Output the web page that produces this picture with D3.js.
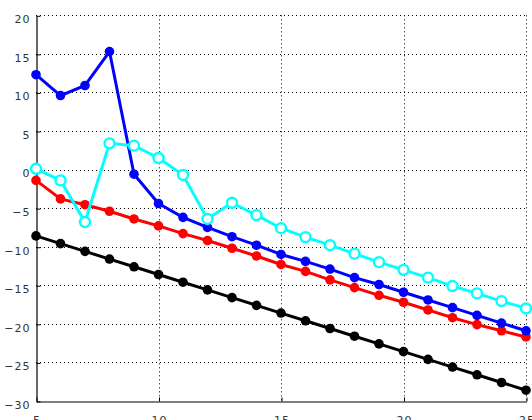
<!DOCTYPE html>
<html>
<head>
<meta charset="utf-8">
<script src="https://cdn.jsdelivr.net/npm/d3@7"></script>
<style>
    body { margin: 0; background: #fff; }
    svg { display: block; }
</style>
</head>
<body>
<div class="chart"></div>
<script>
// x positions shared by all series
var xs = [5, 6, 7, 8, 9, 10, 11, 12, 13, 14, 15, 16, 17, 18, 19, 20, 21, 22, 23, 24, 25];

var blueValues = [12.3, 9.6, 10.9, 15.3, -0.6, -4.4, -6.2, -7.5, -8.7, -9.8, -11.0, -11.9, -12.9,
    -14.0, -14.9, -15.9, -16.9, -17.9, -18.9, -19.9, -20.9];
var cyanValues = [0.1, -1.4, -6.8, 3.4, 3.1, 1.5, -0.7, -6.4, -4.3, -5.9, -7.6, -8.75, -9.8,
    -10.9, -12.0, -13.0, -14.0, -15.1, -16.05, -17.05, -18.0];
var redValues = [-1.4, -3.8, -4.55, -5.4, -6.4, -7.3, -8.3, -9.2, -10.2, -11.2, -12.3, -13.2, -14.3,
    -15.3, -16.3, -17.2, -18.2, -19.2, -20.1, -20.9, -21.7];
var blackValues = [-8.6, -9.6, -10.6, -11.6, -12.6, -13.6, -14.6, -15.6, -16.6, -17.6, -18.6, -19.6, -20.6,
    -21.6, -22.6, -23.6, -24.6, -25.6, -26.6, -27.6, -28.6];

var xTicks = [5, 10, 15, 20, 25];
var yTicks = [-30, -25, -20, -15, -10, -5, 0, 5, 10, 15, 20];

var series = [
    {values: blackValues, color: '#000000', open: false},
    {values: redValues, color: '#ff0000', open: false},
    {values: blueValues, color: '#0000ff', open: false},
    {values: cyanValues, color: '#00ffff', open: true}
];

var width = 532, height = 420;
var plotLeft = 36, plotRight = 526, plotTop = 15.3, plotBottom = 401;

var svg = d3.select('.chart').append('svg')
    .attr('width', width)
    .attr('height', height);

var x = d3.scaleLinear().domain([5, 25]).range([plotLeft, plotRight]);
var y = d3.scaleLinear().domain([-30, 20]).range([plotBottom, plotTop]);

/* dotted grid */
var grid = svg.append('g')
    .attr('stroke', '#000')
    .attr('stroke-width', 1)
    .attr('stroke-dasharray', '1,3');

grid.selectAll('line.h')
    .data(yTicks.filter(function (d) { return d > -30; }))
    .enter().append('line')
    .attr('class', 'h')
    .attr('x1', plotLeft).attr('x2', plotRight)
    .attr('y1', function (d) { return Math.round(y(d)) + 0.5; })
    .attr('y2', function (d) { return Math.round(y(d)) + 0.5; });

grid.selectAll('line.v')
    .data(xTicks.filter(function (d) { return d > 5; }))
    .enter().append('line')
    .attr('class', 'v')
    .attr('y1', plotTop).attr('y2', plotBottom)
    .attr('x1', function (d) { return Math.round(x(d)) + 0.5; })
    .attr('x2', function (d) { return Math.round(x(d)) + 0.5; });

/* axes */
var fmt = function (d) { return d < 0 ? '\u2212' + Math.abs(d) : '' + d; };

var yAxis = svg.append('g')
    .attr('transform', 'translate(' + (plotLeft + 0.5) + ',0.5)')
    .call(d3.axisLeft(y).tickValues(yTicks).tickFormat(fmt).tickSizeInner(-4).tickSizeOuter(0).tickPadding(6));

var xAxis = svg.append('g')
    .attr('transform', 'translate(0.5,' + (Math.round(plotBottom) + 0.5) + ')')
    .call(d3.axisBottom(x).tickValues(xTicks).tickFormat(fmt).tickSizeInner(-4).tickSizeOuter(0).tickPadding(15));

[yAxis, xAxis].forEach(function (ax) {
    ax.select('.domain').attr('stroke', '#000').attr('stroke-width', 1.2);
    ax.selectAll('.tick line').attr('stroke', '#000');
    ax.selectAll('.tick text')
        .attr('fill', '#333')
        .style('font-family', '"DejaVu Sans", sans-serif')
        .style('font-size', '11px')
        .style('letter-spacing', '1px');
});
yAxis.selectAll('.tick text').attr('dy', '0.62em');

/* series */
var line = d3.line()
    .x(function (d, i) { return x(xs[i]); })
    .y(function (d) { return y(d); });

for (var i = 0; i < series.length; i++) {
    var s = series[i];
    var g = svg.append('g');

    g.append('path')
        .datum(s.values)
        .attr('d', line)
        .attr('fill', 'none')
        .attr('stroke', s.color)
        .attr('stroke-width', 3)
        .attr('stroke-linejoin', 'round');

    g.selectAll('circle')
        .data(s.values)
        .enter().append('circle')
        .attr('cx', function (d, j) { return x(xs[j]); })
        .attr('cy', function (d) { return y(d); })
        .attr('r', s.open ? 5 : 4.8)
        .attr('fill', s.open ? '#fff' : s.color)
        .attr('stroke', s.color)
        .attr('stroke-width', s.open ? 2.4 : 0);
}
</script>
</body>
</html>
